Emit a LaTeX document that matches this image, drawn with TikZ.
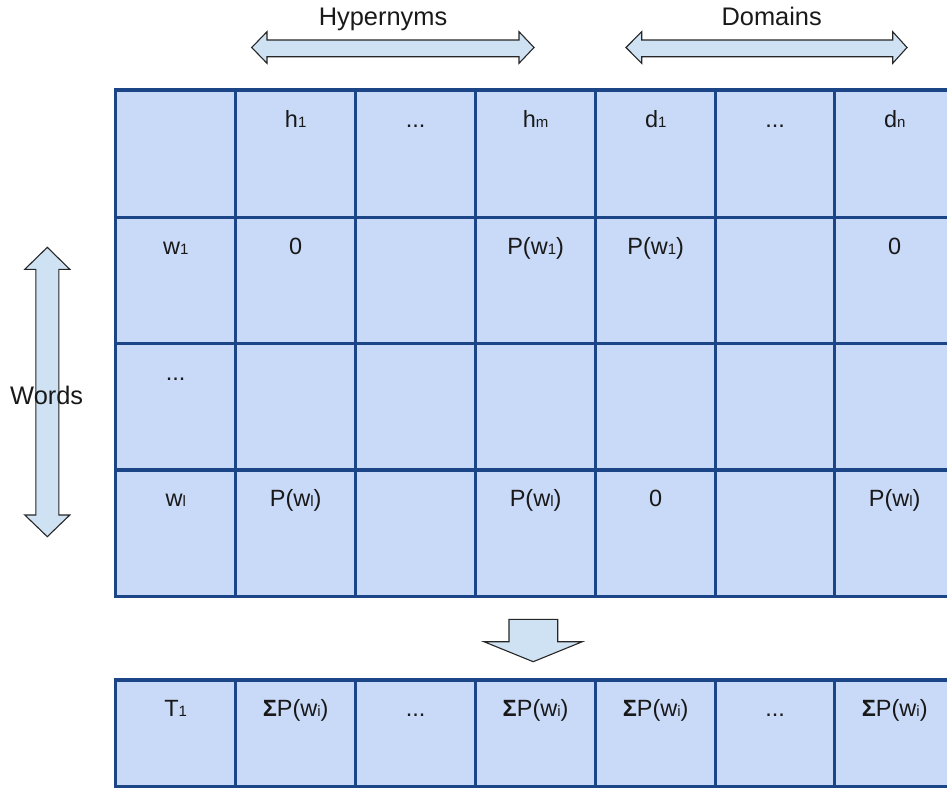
\documentclass[tikz,border=0pt]{standalone}
\usepackage{fontspec}
\setmainfont{Liberation Sans}
\definecolor{gridline}{HTML}{1C4587}
\definecolor{cellfill}{HTML}{C9DAF8}
\definecolor{arrowfill}{HTML}{CFE2F3}
\newcommand{\sbs}[1]{{\fontsize{15}{15}\selectfont #1}}
\newcommand{\Pw}[1]{P(w\sbs{#1})}
\newcommand{\SPw}{{\bfseries Σ}P(w\sbs{i})}
\begin{document}
\begin{tikzpicture}[x=1pt,y=-1pt,
  cell/.style={anchor=base, font=\fontsize{23.5}{27}\selectfont, inner sep=0pt, text=black!90},
  lbl/.style={anchor=base, font=\fontsize{25.4}{29}\selectfont, inner sep=0pt, text=black!90},
  gridl/.style={draw=gridline, line width=3.4pt, line cap=rect},
  fatarrow/.style={fill=arrowfill, draw=black!85, line width=1.1pt, line join=miter}]
\useasboundingbox (0,0) rectangle (947,788);
\begin{scope}
\clip (0,0) rectangle (947,788);
\fill[cellfill] (115.7,90) rectangle (954.7,596.7);
\fill[cellfill] (115.7,680) rectangle (954.7,786.7);
\foreach \x in {115.7,235.7,355.7,475.5,595.7,715.7,834.7,954.7} {
  \draw[gridl] (\x,90) -- (\x,596.7);
  \draw[gridl] (\x,680) -- (\x,786.7);
}
\foreach \y in {90,217.3,343.7,470,596.7,680,786.7}
  \draw[gridl] (115.7,\y) -- (954.7,\y);
\end{scope}

% arrows
\draw[fatarrow] (251.7,47.5) -- (267,31.7) -- (267,40) -- (519,40) -- (519,31.7) -- (534,47.5)
  -- (519,63.3) -- (519,56.7) -- (267,56.7) -- (267,63.3) -- cycle;
\draw[fatarrow] (626,47.5) -- (641.7,31.7) -- (641.7,40) -- (892.7,40) -- (892.7,31.7) -- (907,47.5)
  -- (892.7,63.3) -- (892.7,56.7) -- (641.7,56.7) -- (641.7,63.3) -- cycle;
\draw[fatarrow] (47.3,247.3) -- (69.8,269.3) -- (58.8,269.3) -- (58.8,515) -- (69.8,515) -- (47.3,536.7)
  -- (24.8,515) -- (35.8,515) -- (35.8,269.3) -- (24.8,269.3) -- cycle;
\draw[fatarrow] (509,619.3) -- (557.7,619.3) -- (557.7,641.7) -- (582.3,641.7) -- (533.2,661.7)
  -- (484,641.7) -- (509,641.7) -- cycle;

% labels
\node[lbl] (hyp) at (383,25.5) {Hypernyms};
\node[lbl] (dom) at (771.7,25) {Domains};
\node[lbl] (words) at (46.7,404) {Words};

% header row
\node[cell] (h1) at (295.7,127) {h\sbs{1}};
\node[cell] (hdots) at (415.6,127) {...};
\node[cell] (hm) at (535.6,127) {h\sbs{m}};
\node[cell] (d1) at (655.7,127) {d\sbs{1}};
\node[cell] (ddots) at (775.2,127) {...};
\node[cell] (dn) at (894.7,127) {d\sbs{n}};

% row w1
\node[cell] (w1) at (175.7,254) {w\sbs{1}};
\node[cell] (w1h1) at (295.7,254) {0};
\node[cell] (w1hm) at (535.6,254) {\Pw{1}};
\node[cell] (w1d1) at (655.7,254) {\Pw{1}};
\node[cell] (w1dn) at (894.7,254) {0};

% row dots
\node[cell] (wdots) at (175.7,380) {...};

% row wl
\node[cell] (wl) at (175.7,506.5) {w\sbs{l}};
\node[cell] (wlh1) at (295.7,506.5) {\Pw{l}};
\node[cell] (wlhm) at (535.6,506.5) {\Pw{l}};
\node[cell] (wld1) at (655.7,506.5) {0};
\node[cell] (wldn) at (894.7,506.5) {\Pw{l}};

% bottom row
\node[cell] (t1) at (175.7,716.5) {T\sbs{1}};
\node[cell] (s1) at (295.7,716.5) {\SPw};
\node[cell] (s2) at (415.6,716.5) {...};
\node[cell] (s3) at (535.6,716.5) {\SPw};
\node[cell] (s4) at (655.7,716.5) {\SPw};
\node[cell] (s5) at (775.2,716.5) {...};
\node[cell] (s6) at (894.7,716.5) {\SPw};
\end{tikzpicture}
\end{document}
